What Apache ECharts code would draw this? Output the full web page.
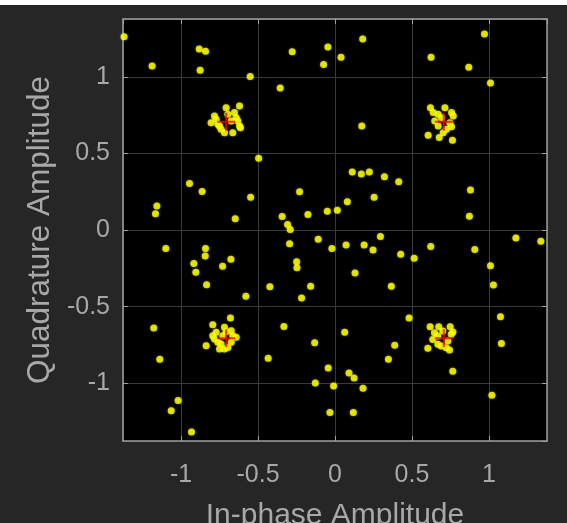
<!DOCTYPE html>
<html>
<head>
<meta charset="utf-8">
<script src="https://cdn.jsdelivr.net/npm/echarts@6/dist/echarts.min.js"></script>
<style>
html,body{margin:0;padding:0;background:#ffffff;}
#chart{width:567px;height:523px;}
</style>
</head>
<body>
<div id="chart"></div>
<script>
// Axis range and labels
const axisMin = -1.377;
const axisMax = 1.377;
const xTitle = 'In-phase Amplitude';
const yTitle = 'Quadrature Amplitude';

// Reference constellation (QPSK)
const refI = [-0.707, 0.707, -0.707, 0.707];
const refQ = [0.707, 0.707, -0.707, -0.707];

// Received symbols clustered near the reference points
const clusterNW = [[-0.707,0.798],[-0.620,0.809],[-0.783,0.744],[-0.805,0.700],[-0.653,0.766],[-0.642,0.733],[-0.674,0.711],[-0.620,0.679],[-0.614,0.668],[-0.740,0.657],[-0.718,0.635],[-0.664,0.635],[-0.761,0.690],[-0.696,0.755],[-0.631,0.711],[-0.772,0.722],[-0.750,0.679]];
const clusterNE = [[0.620,0.798],[0.714,0.798],[0.757,0.766],[0.768,0.744],[0.638,0.766],[0.670,0.755],[0.648,0.711],[0.692,0.733],[0.746,0.700],[0.757,0.674],[0.670,0.679],[0.703,0.635],[0.605,0.618],[0.677,0.603],[0.763,0.585],[0.724,0.657]];
const clusterSW = [[-0.679,-0.575],[-0.794,-0.618],[-0.718,-0.635],[-0.772,-0.668],[-0.674,-0.657],[-0.642,-0.700],[-0.783,-0.711],[-0.740,-0.744],[-0.696,-0.766],[-0.837,-0.755],[-0.750,-0.776],[-0.729,-0.690],[-0.761,-0.733],[-0.674,-0.733],[-0.707,-0.664],[-0.664,-0.690],[-0.794,-0.690],[-0.718,-0.776]];
const clusterSE = [[0.618,-0.631],[0.674,-0.631],[0.748,-0.631],[0.766,-0.666],[0.646,-0.670],[0.635,-0.714],[0.668,-0.746],[0.722,-0.768],[0.744,-0.783],[0.603,-0.772],[0.690,-0.757],[0.755,-0.681],[0.700,-0.659],[0.668,-0.692],[0.733,-0.724]];

// Received symbols scattered elsewhere
const scattered = [
[-1.370,1.261],[-0.882,1.181],[-0.841,1.166],[-1.188,1.071],[-0.876,1.043],[-0.551,1.002],[-0.356,0.926],[-0.278,1.164],[-0.046,1.194],[-0.074,1.080],[0.039,1.127],[0.180,1.246],[0.971,1.279],[0.624,1.127],[0.869,1.062],[1.010,0.959],[0.174,0.678],
[-0.496,0.469],[-0.945,0.304],[-0.863,0.252],[-0.548,0.213],[-0.230,0.250],[-1.157,0.157],[-1.166,0.106],[-0.648,0.073],[-0.343,0.088],[-0.176,0.101],[-0.050,0.123],[0.015,0.129],[-0.308,0.036],[-0.291,0.004],[0.080,0.185],[0.112,0.378],[0.171,0.365],[0.223,0.378],[0.321,0.347],[0.414,0.315],[0.254,0.213],[0.880,0.261],[0.873,0.090],
[-0.295,-0.089],[-1.099,-0.121],[-0.841,-0.121],[-0.843,-0.169],[-0.917,-0.218],[-0.904,-0.275],[-0.676,-0.191],[-0.730,-0.236],[-0.834,-0.357],[-0.579,-0.432],[-0.423,-0.370],[-0.249,-0.208],[-0.247,-0.247],[-0.217,-0.443],[-0.158,-0.367],[-0.109,-0.061],[-0.020,-0.121],[0.072,-0.098],[0.130,-0.281],[0.189,-0.098],[0.247,-0.130],[0.295,-0.043],[0.427,-0.158],[0.514,-0.184],[0.622,-0.108],[0.366,-0.367],[0.908,-0.128],[1.175,-0.052],[1.337,-0.074],[1.010,-0.234],[1.029,-0.359],
[-1.177,-0.640],[-1.138,-0.843],[-0.332,-0.629],[-0.434,-0.837],[-0.132,-0.735],[-0.044,-0.901],[-0.128,-0.999],[-0.009,-1.018],[-0.033,-1.191],[-1.019,-1.113],[-1.064,-1.180],[-0.932,-1.318],[0.481,-0.575],[0.063,-0.668],[0.388,-0.752],[0.347,-0.843],[0.765,-0.921],[1.075,-0.566],[1.081,-0.741],[1.019,-1.078],[0.091,-0.934],[0.124,-0.966],[0.182,-1.033],[0.119,-1.191]
];

const received = scattered.concat(clusterNW, clusterNE, clusterSW, clusterSE);
const reference = refI.map((v, i) => [v, refQ[i]]);

const fontFam = '"Liberation Sans", Arial, Helvetica, sans-serif';
const labelColor = '#a8a8a8';
const gridColor = '#3a3a3a';
const boxColor = '#a0a0a0';

const chart = echarts.init(document.getElementById('chart'), null, {renderer: 'canvas'});

function mainAxis(pos, name, nameGap, margin, nameSize) {
  return {
    type: 'value', position: pos, min: axisMin, max: axisMax, splitNumber: 5,
    name: name, nameLocation: 'middle', nameGap: nameGap,
    nameTextStyle: {color: labelColor, fontSize: nameSize, fontFamily: fontFam},
    axisLine: {show: true, onZero: false, lineStyle: {color: boxColor, width: 1.5}},
    axisTick: {show: true, inside: true, length: 5, lineStyle: {color: boxColor}},
    axisLabel: {show: true, color: labelColor, fontSize: 25, fontFamily: fontFam, margin: margin, showMinLabel: false, showMaxLabel: false},
    splitLine: {show: true, lineStyle: {color: gridColor, width: 1}}
  };
}
function sideAxis(pos) {
  return {
    type: 'value', position: pos, min: axisMin, max: axisMax, splitNumber: 5,
    axisLine: {show: true, onZero: false, lineStyle: {color: boxColor, width: 1.5}},
    axisTick: {show: true, inside: true, length: 5, lineStyle: {color: boxColor}},
    axisLabel: {show: false},
    splitLine: {show: false}
  };
}

chart.setOption({
  backgroundColor: '#262626',
  animation: false,
  graphic: [{type: 'rect', left: 0, top: 0, shape: {width: 567, height: 5}, style: {fill: '#ffffff'}, z: 100}],
  grid: {left: 123, top: 19, right: 20, bottom: 82, show: true, backgroundColor: '#000000', borderWidth: 0, containLabel: false, outerBoundsMode: 'none'},
  xAxis: [mainAxis('bottom', xTitle, 60, 22, 30), sideAxis('top')],
  yAxis: [mainAxis('left', yTitle, 63, 13, 31.5), sideAxis('right')],
  series: [
    {type: 'scatter', xAxisIndex: 0, yAxisIndex: 0, data: received, symbol: 'circle', symbolSize: 7,
     itemStyle: {color: '#ffff00', shadowBlur: 2, shadowColor: 'rgba(255,255,0,0.6)'}, z: 2},
    {type: 'scatter', xAxisIndex: 0, yAxisIndex: 0, data: reference,
     symbol: 'path://M-1,-9 L1,-9 L1,-1 L9,-1 L9,1 L1,1 L1,9 L-1,9 L-1,1 L-9,1 L-9,-1 L-1,-1 Z',
     symbolSize: [18, 18], itemStyle: {color: '#ff0000'}, z: 3}
  ]
});
</script>
</body>
</html>
